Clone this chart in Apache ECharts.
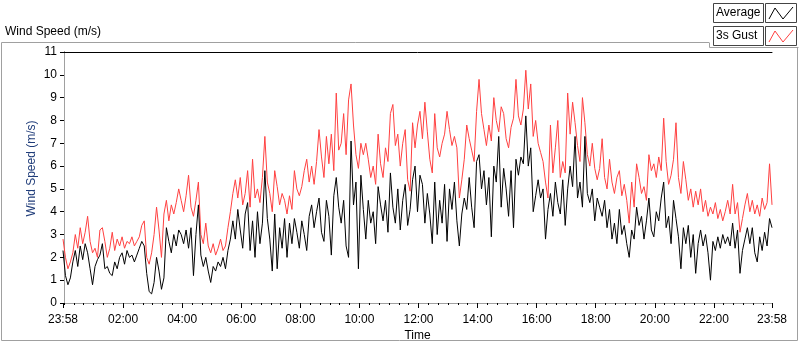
<!DOCTYPE html>
<html>
<head>
<meta charset="utf-8">
<title>Wind Speed</title>
<script src="https://cdn.jsdelivr.net/npm/echarts@6/dist/echarts.min.js"></script>
<style>
  html, body { margin: 0; padding: 0; background: #fff; }
  #chart { width: 800px; height: 342px; }
</style>
</head>
<body>
<div id="chart"></div>
<script>
// one sample every 5 minutes, first one at 23:58 of the day before
const startMinute = -2;
const stepMinutes = 5;

const average = [
  2.3,1.2,0.8,1.1,1.8,2.3,1.6,2.5,1.9,2.6, 2.2,1.5,0.8,1.6,1.9,2.1,2.6,1.5,1.6,1.3,
  1.2,1.8,1.5,2.0,2.2,1.7,2.3,2.0,2.1,1.8, 2.1,2.4,2.7,2.5,1.3,0.5,0.4,0.9,2.0,1.4,
  0.6,1.1,3.3,2.7,2.2,3.0,2.5,3.2,
  3.0,2.6,3.2,2.4,3.3,1.2,3.0,4.3,2.1,1.6, 2.0,1.4,0.9,1.6,1.4,1.8,1.6,2.0,1.5,2.3,
  2.8,3.6,2.8,4.1,3.2,2.4,3.9,4.4,2.3,3.6, 2.0,4.0,2.6,3.5,5.8,3.7,2.8,1.4,3.9,1.5,
  3.3,2.4,3.7,2.0,3.5,2.6,3.7,3.1,
  2.4,3.6,3.0,2.3,3.8,4.3,3.3,4.0,4.6,3.1, 2.7,4.5,3.8,2.1,4.7,5.5,4.2,3.5,4.5,2.5,
  2.0,7.1,4.3,5.3,1.5,5.6,4.1,2.8,4.5,3.5, 4.0,2.6,5.1,4.3,3.6,4.5,3.1,5.7,4.2,3.5,
  5.0,3.2,4.5,5.2,3.4,4.1,5.4,6.0,
  4.0,5.6,5.2,3.5,4.8,3.9,2.6,5.3,3.0,4.5, 3.5,5.2,2.7,5.0,4.1,5.3,3.6,2.5,3.9,4.6,
  4.1,5.5,4.2,3.3,6.2,6.5,5.0,5.8,4.3,5.5, 2.9,6.0,5.3,7.3,4.2,5.9,5.0,3.8,5.8,3.3,
  6.3,5.6,6.4,6.1,8.2,6.0,6.8,4.0,
  4.7,5.4,4.6,5.0,2.8,4.1,4.8,3.8,5.3,4.4, 3.9,5.4,3.4,5.0,6.0,5.1,7.3,4.6,5.3,4.2,
  7.3,4.8,4.4,5.0,3.6,4.6,4.2,3.8,4.5,3.3, 4.1,2.8,3.5,2.6,4.1,3.0,3.4,2.6,2.0,3.2,
  2.8,4.2,3.4,3.8,2.8,3.6,4.6,3.2,
  2.9,4.0,3.6,4.6,5.3,3.3,3.8,2.6,4.5,3.7, 2.9,1.5,3.3,2.6,3.4,2.0,3.0,1.3,2.6,3.2,
  2.5,3.0,2.2,1.0,2.7,2.3,2.9,2.4,3.0,2.6, 2.9,2.5,3.5,2.4,3.2,1.3,2.3,2.8,3.3,2.6,
  3.3,2.2,1.8,2.9,2.3,3.1,2.5,3.7,3.3
];

const gust = [
  2.8,2.0,1.5,1.8,2.2,3.0,2.4,3.3,2.6,3.1, 3.8,2.7,2.2,2.4,2.0,3.2,3.3,2.7,2.0,2.4,
  3.1,2.3,2.8,2.5,2.9,2.4,2.7,2.6,2.9,2.5, 2.7,2.9,3.4,3.6,2.0,1.7,2.2,3.0,4.2,3.2,
  2.0,3.9,4.5,3.6,4.3,3.9,4.4,5.0,
  4.5,4.0,4.7,5.6,4.2,3.8,4.5,5.3,3.0,2.6, 3.5,2.5,2.2,2.6,2.1,2.4,2.8,2.3,2.5,3.3,
  4.0,4.8,5.4,4.6,5.5,4.3,4.8,5.8,4.2,6.3, 4.6,5.0,4.4,5.5,7.3,5.3,4.8,4.0,5.8,5.1,
  4.3,4.8,4.5,3.9,4.7,4.1,5.8,5.0,
  4.7,5.1,5.8,6.3,5.3,6.0,5.2,6.2,7.6,6.4, 5.5,7.3,6.1,7.4,5.8,9.2,6.7,7.0,8.3,6.5,
  8.9,9.6,7.8,6.5,5.9,7.0,6.5,7.0,6.3,5.5, 6.0,5.2,7.4,6.1,5.5,6.8,6.2,8.3,8.7,6.9,
  7.4,6.0,7.0,7.6,5.4,4.9,7.9,6.8,
  7.8,8.4,7.2,8.8,7.5,6.3,5.7,8.3,6.8,6.4, 7.0,7.4,8.4,7.6,6.9,7.3,6.8,4.6,5.4,6.3,
  7.8,7.2,6.7,6.2,8.4,9.8,8.3,7.6,6.9,7.8, 7.1,9.0,8.0,7.5,8.6,8.3,7.2,6.8,7.7,8.1,
  9.8,8.2,7.8,8.5,10.2,8.5,9.6,7.3,
  8.0,7.0,6.6,6.2,5.3,4.6,7.8,5.7,6.8,8.0, 5.5,6.2,5.7,9.2,7.4,8.8,7.9,6.9,6.2,9.0,
  7.9,6.5,6.0,7.0,5.9,5.4,5.9,7.2,5.5,5.0, 6.3,5.3,4.8,5.5,5.8,4.7,5.2,4.5,3.5,5.3,
  4.2,6.1,5.5,4.8,5.1,4.5,6.5,5.8,
  6.1,5.5,6.4,5.8,8.1,6.2,5.2,5.6,6.3,7.9, 5.5,4.8,6.2,5.4,4.5,5.0,4.2,4.9,4.3,5.0,
  4.0,4.5,3.8,4.2,3.9,4.4,3.7,4.1,3.6,4.0, 4.5,3.9,5.2,3.9,4.4,3.1,3.7,4.3,4.8,4.0,
  4.5,3.9,4.3,3.8,4.6,4.1,4.4,6.1,4.3
];

// labelled ticks (minutes from midnight), ends are 23:58
const majorTicks = [-2, 120, 240, 360, 480, 600, 720, 840, 960, 1080, 1200, 1320, 1438];

const minorTicks = [];
for (let m = 0; m < 1440; m += 20) minorTicks.push(m);

function clock(m) {
  const v = (m + 1440) % 1440;
  const h = Math.floor(v / 60);
  const mm = v % 60;
  return String(h).padStart(2, '0') + ':' + String(mm).padStart(2, '0');
}

const font = 'Liberation Sans, Arial, sans-serif';
const frameGray = '#a0a0a0';

const chart = echarts.init(document.getElementById('chart'));

function legendItem(label, y, color) {
  return [
    { type: 'rect', shape: { x: 713.5, y: y + 0.5, width: 50, height: 19 },
      style: { fill: '#fff', stroke: '#444', lineWidth: 1 } },
    { type: 'text', x: 716, y: y + 10, style: { text: label, font: '12px ' + font, fill: '#000', verticalAlign: 'middle' } },
    { type: 'rect', shape: { x: 765.5, y: y + 0.5, width: 31, height: 19 },
      style: { fill: '#fff', stroke: '#444', lineWidth: 1 } },
    { type: 'polyline', shape: { points: [[769, y + 16], [775, y + 5], [783, y + 16], [793, y + 4]] },
      style: { stroke: color, lineWidth: 1, fill: null } }
  ];
}

const option = {
  animation: false,
  textStyle: { fontFamily: font },
  grid: { left: 63, right: 28, top: 52, bottom: 39, outerBoundsMode: 'none', containLabel: false },
  xAxis: [
    {
      type: 'value', min: -2, max: 1438, position: 'bottom',
      axisLine: { lineStyle: { color: frameGray } },
      axisTick: { customValues: majorTicks, length: 5, lineStyle: { color: '#000' } },
      axisLabel: { customValues: majorTicks, formatter: clock, color: '#000', fontSize: 12, margin: 11 },
      splitLine: { show: false },
      name: 'Time', nameLocation: 'middle', nameGap: 27, nameMoveOverlap: false,
      nameTextStyle: { color: '#000', fontSize: 12 }
    },
    {
      type: 'value', min: -2, max: 1438, position: 'bottom',
      axisLine: { show: false },
      axisTick: { customValues: minorTicks, length: 2, lineStyle: { color: '#000' } },
      axisLabel: { show: false },
      splitLine: { show: false }
    },
    {
      type: 'value', min: -2, max: 1438, position: 'top',
      axisLine: { lineStyle: { color: '#000' } },
      axisTick: { show: false }, axisLabel: { show: false }, splitLine: { show: false }
    }
  ],
  yAxis: [
    {
      type: 'value', min: 0, max: 11, interval: 1,
      axisLine: { show: true, lineStyle: { color: '#000' } },
      axisTick: { show: true, length: 4, lineStyle: { color: '#000' } },
      axisLabel: { color: '#000', fontSize: 12, margin: 6 },
      splitLine: { show: false },
      name: 'Wind Speed (m/s)', nameLocation: 'middle', nameGap: 25, nameMoveOverlap: false,
      nameTextStyle: { color: '#203d7a', fontSize: 12, padding: [0, 0, 0, 18] }
    },
    {
      type: 'value', min: 0, max: 11, position: 'right',
      axisLine: { show: true, lineStyle: { color: frameGray } },
      axisTick: { show: false }, axisLabel: { show: false }, splitLine: { show: false }
    }
  ],
  series: [
    {
      name: '3s Gust', type: 'line', showSymbol: false, z: 2,
      data: gust.map((v, i) => [startMinute + i * stepMinutes, v]),
      lineStyle: { color: '#ff4040', width: 1 }, itemStyle: { color: '#ff4040' }
    },
    {
      name: 'Average', type: 'line', showSymbol: false, z: 3,
      data: average.map((v, i) => [startMinute + i * stepMinutes, v]),
      lineStyle: { color: '#000', width: 1 }, itemStyle: { color: '#000' }
    }
  ],
  graphic: [
    { type: 'text', x: 5, y: 32, style: { text: 'Wind Speed (m/s)', font: '12px ' + font, fill: '#000', verticalAlign: 'middle' } },
    { type: 'polyline', shape: { points: [[709, 42.5], [1.5, 42.5], [1.5, 340.5], [797.5, 340.5], [797.5, 48]] },
      style: { stroke: frameGray, lineWidth: 1, fill: null } },
    { type: 'polyline', shape: { points: [[709.5, 42.5], [709.5, 47.5], [798.5, 47.5]] },
      style: { stroke: frameGray, lineWidth: 1, fill: null } }
  ].concat(legendItem('Average', 3, '#000'), legendItem('3s Gust', 26, '#ff4040'))
};

chart.setOption(option);
</script>
</body>
</html>
